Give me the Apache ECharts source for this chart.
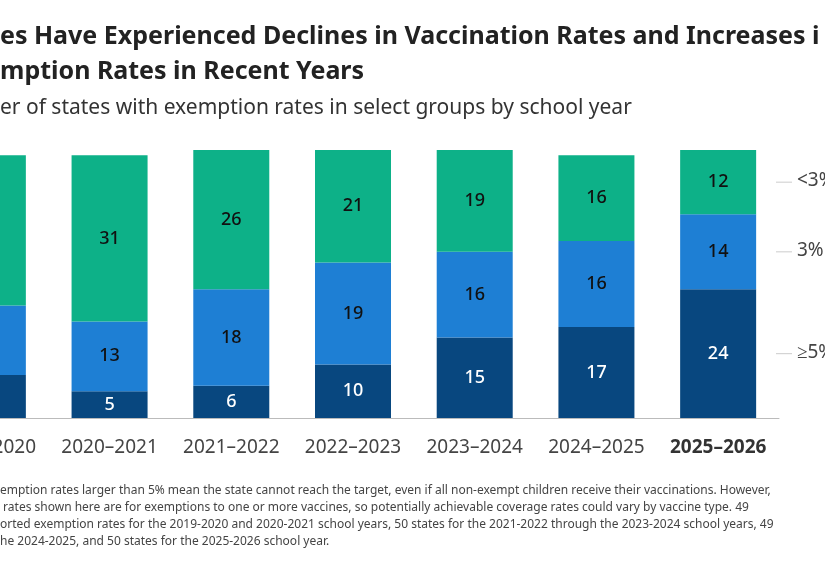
<!DOCTYPE html>
<html><head><meta charset="utf-8">
<script src="https://cdn.jsdelivr.net/npm/echarts@6/dist/echarts.min.js"></script>
<style>body{margin:0;background:#fff;overflow:hidden;width:825px;height:575px}#c{width:900px;height:575px;margin-left:-75px}</style>
</head><body><div id="c"></div>
<script>
var years = ['2019–2020','2020–2021','2021–2022','2022–2023','2023–2024','2024–2025','2025–2026'];
var high = [8, 5, 6, 10, 15, 17, 24];
var mid = [13, 13, 18, 19, 16, 16, 14];
var low = [28, 31, 26, 21, 19, 16, 12];
var groupNames = ['≥5%', '3%', '<3%'];

var chart = echarts.init(document.getElementById('c'));
var font = 'Noto Sans';
var off = 75; // the picture is cropped on its left
function bar(name, data, color, textColor) {
	return {
		name: name, type: 'bar', stack: 'all', data: data, barWidth: 76,
		itemStyle: {color: color},
		label: {show: true, color: textColor, fontSize: 18, fontWeight: 500, fontFamily: font}
	};
}
var foot = [
	'emption rates larger than 5% mean the state cannot reach the target, even if all non-exempt children receive their vaccinations. However,',
	' rates shown here are for exemptions to one or more vaccines, so potentially achievable coverage rates could vary by vaccine type. 49',
	'orted exemption rates for the 2019-2020 and 2020-2021 school years, 50 states for the 2021-2022 through the 2023-2024 school years, 49',
	'he 2024-2025, and 50 states for the 2025-2026 school year.'
];
var graphics = [
	{type: 'text', left: off, top: 24, style: {text: 'es Have Experienced Declines in Vaccination Rates and Increases i', font: 'bold 25px ' + font, fill: '#222'}},
	{type: 'text', left: off, top: 59, style: {text: 'mption Rates in Recent Years', font: 'bold 25px ' + font, fill: '#222'}},
	{type: 'text', left: off, top: 98, style: {text: 'er of states with exemption rates in select groups by school year', font: '21px ' + font, fill: '#333'}}
];
foot.forEach(function (t, i) {
	graphics.push({type: 'text', left: off, top: 485 + i * 17, style: {text: t, font: '12px ' + font, fill: '#444'}});
});
var lastMid = [418 - 24 * 5.36 / 2, 418 - (24 + 14 / 2) * 5.36, 418 - (38 + 12 / 2) * 5.36];
lastMid.forEach(function (y, i) {
	graphics.push({type: 'line', shape: {x1: 776 + off, y1: y, x2: 792 + off, y2: y}, style: {stroke: '#ccc', lineWidth: 1}});
	graphics.push({type: 'text', x: 797 + off, y: y - 11, style: {text: groupNames[i], font: '19px ' + font, fill: '#444'}});
});

chart.setOption({
	animation: false,
	grid: {left: 2, right: 46, top: 150, height: 268},
	xAxis: {
		type: 'category', data: years,
		axisLine: {lineStyle: {color: '#bbb'}}, axisTick: {show: false},
		axisLabel: {
			interval: 0, fontSize: 19, fontFamily: font, color: '#444', margin: 20,
			formatter: function (v, i) { return i === 6 ? '{b|' + v + '}' : v; },
			rich: {b: {fontWeight: 'bold', fontSize: 19, fontFamily: font, color: '#333'}}
		}
	},
	yAxis: {type: 'value', min: 0, max: 50, show: false},
	series: [
		bar('≥5%', high, '#08477f', '#fff'),
		bar('3%', mid, '#1e7fd4', '#111'),
		bar('<3%', low, '#0db188', '#111')
	],
	graphic: graphics
});
</script></body></html>
